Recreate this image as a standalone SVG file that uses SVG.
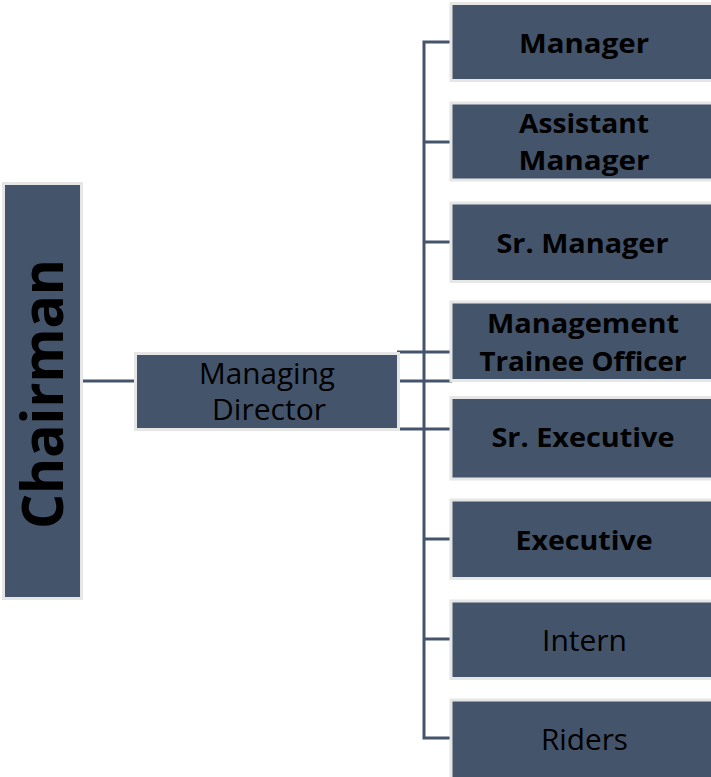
<svg xmlns="http://www.w3.org/2000/svg" width="711" height="777" viewBox="0 0 711 777">
  <style>
    .box { fill: #44546A; stroke: #E6E6E6; stroke-width: 3; }
    .lbl { font-family: "Open Sans", "Liberation Sans", sans-serif; fill: #000000; text-anchor: middle; }
    .b { font-weight: bold; font-size: 27.5px; }
    .r { font-weight: normal; font-size: 29px; }
    .wire { fill: none; stroke: #44546A; stroke-width: 3; }
  </style>
  <rect width="711" height="777" fill="#FFFFFF"/>

  <!-- connectors -->
  <g id="connectors">
    <line class="wire" x1="82" y1="381" x2="136" y2="381"/>
    <polyline class="wire" points="452,42 424,42 424,738 452,738"/>
    <line class="wire" x1="424" y1="142" x2="452" y2="142"/>
    <line class="wire" x1="424" y1="242" x2="452" y2="242"/>
    <line class="wire" x1="397" y1="352" x2="452" y2="352"/>
    <line class="wire" x1="397" y1="381" x2="452" y2="381"/>
    <line class="wire" x1="397" y1="429" x2="452" y2="429"/>
    <line class="wire" x1="424" y1="539" x2="452" y2="539"/>
    <line class="wire" x1="424" y1="639" x2="452" y2="639"/>
  </g>

  <g id="chairman">
    <rect class="box" x="3.5" y="183.5" width="78" height="415"/>
    <text class="lbl" font-weight="bold" font-size="57" transform="translate(63 394) rotate(-90)" textLength="270" lengthAdjust="spacingAndGlyphs">Chairman</text>
  </g>

  <g id="managing-director">
    <rect class="box" x="135.5" y="353.5" width="263" height="76"/>
    <text class="lbl r" x="267" y="384" textLength="136" lengthAdjust="spacingAndGlyphs">Managing</text>
    <text class="lbl r" x="269" y="420" textLength="114" lengthAdjust="spacingAndGlyphs">Director</text>
  </g>

  <g id="manager">
    <rect class="box" x="451" y="3.5" width="270" height="77"/>
    <text class="lbl b" x="584" y="53" textLength="130" lengthAdjust="spacingAndGlyphs">Manager</text>
  </g>

  <g id="assistant-manager">
    <rect class="box" x="451" y="103" width="270" height="77"/>
    <text class="lbl b" x="584" y="133" textLength="130" lengthAdjust="spacingAndGlyphs">Assistant</text>
    <text class="lbl b" x="584" y="170" textLength="131" lengthAdjust="spacingAndGlyphs">Manager</text>
  </g>

  <g id="sr-manager">
    <rect class="box" x="451" y="203" width="270" height="78.5"/>
    <text class="lbl b" x="582.5" y="253" textLength="172" lengthAdjust="spacingAndGlyphs">Sr. Manager</text>
  </g>

  <g id="management-trainee-officer">
    <rect class="box" x="451" y="302" width="270" height="78.5"/>
    <text class="lbl b" x="583" y="333" textLength="192" lengthAdjust="spacingAndGlyphs">Management</text>
    <text class="lbl b" x="583" y="371" textLength="207" lengthAdjust="spacingAndGlyphs">Trainee Officer</text>
  </g>

  <g id="sr-executive">
    <rect class="box" x="451" y="397.5" width="270" height="81.5"/>
    <text class="lbl b" x="583" y="447" textLength="183" lengthAdjust="spacingAndGlyphs">Sr. Executive</text>
  </g>

  <g id="executive">
    <rect class="box" x="451" y="500" width="270" height="78.5"/>
    <text class="lbl b" x="584" y="550" textLength="137" lengthAdjust="spacingAndGlyphs">Executive</text>
  </g>

  <g id="intern">
    <rect class="box" x="451" y="601" width="270" height="77.5"/>
    <text class="lbl r" x="584.5" y="651" textLength="85" lengthAdjust="spacingAndGlyphs">Intern</text>
  </g>

  <g id="riders">
    <rect class="box" x="451" y="700" width="270" height="80"/>
    <text class="lbl r" x="584.5" y="750" textLength="87" lengthAdjust="spacingAndGlyphs">Riders</text>
  </g>
</svg>
